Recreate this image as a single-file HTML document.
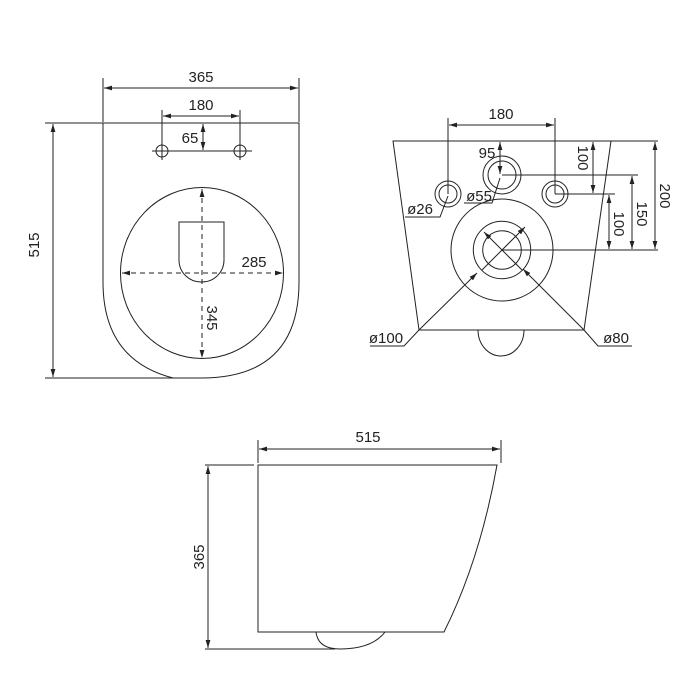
<!DOCTYPE html>
<html><head><style>body{margin:0;background:#fff}svg{display:block}text{font-family:"Liberation Sans",sans-serif;font-size:15px;fill:#222}</style></head>
<body>
<svg width="700" height="700" viewBox="0 0 700 700" xmlns="http://www.w3.org/2000/svg">
<defs>
<marker id="a" viewBox="0 0 10 10" refX="10" refY="5" markerWidth="8" markerHeight="8" orient="auto-start-reverse"><path d="M0,2 L10,5 L0,8 z" fill="#222"/></marker>
</defs>
<g fill="none" stroke="#222" stroke-width="1">
<!-- TOP VIEW -->
<path d="M103,123 L299,123 L299,282 Q299,378 201,378 L173,378 Q103,360 103,282 Z"/>
<line x1="45" y1="123" x2="103" y2="123"/>
<line x1="45" y1="378" x2="173" y2="378"/>
<line x1="53" y1="124" x2="53" y2="377" marker-start="url(#a)" marker-end="url(#a)"/>
<line x1="103" y1="78" x2="103" y2="122"/>
<line x1="299" y1="78" x2="299" y2="122"/>
<line x1="104" y1="88" x2="298" y2="88" marker-start="url(#a)" marker-end="url(#a)"/>
<line x1="162" y1="110" x2="162" y2="160"/>
<line x1="240" y1="110" x2="240" y2="160"/>
<line x1="163" y1="116" x2="239" y2="116" marker-start="url(#a)" marker-end="url(#a)"/>
<circle cx="162" cy="151" r="6"/><circle cx="240" cy="151" r="6"/>
<line x1="152" y1="151" x2="252" y2="151"/>
<line x1="203" y1="124" x2="203" y2="150" marker-start="url(#a)" marker-end="url(#a)"/>
<ellipse cx="202" cy="273" rx="81.5" ry="85.5"/>
<path d="M179,222 L224,222 L224,260 A22,22 0 0 1 202,282 A22,22 0 0 1 179,260 Z"/>
<line x1="202" y1="189" x2="202" y2="358" stroke-dasharray="5,4" marker-start="url(#a)" marker-end="url(#a)"/>
<line x1="122" y1="273" x2="283" y2="273" stroke-dasharray="5,4" marker-start="url(#a)" marker-end="url(#a)"/>
<!-- REAR VIEW -->
<path d="M393,141 L611,141 L584,330 L419,330 Z"/>
<path d="M478,330 A23,26 0 0 0 524,330"/>
<line x1="611" y1="141" x2="658" y2="141"/>
<line x1="448" y1="118" x2="448" y2="194"/>
<line x1="555" y1="118" x2="555" y2="194"/>
<line x1="449" y1="125" x2="554" y2="125" marker-start="url(#a)" marker-end="url(#a)"/>
<circle cx="448" cy="194" r="13"/><circle cx="448" cy="194" r="9"/>
<circle cx="555" cy="194" r="13"/><circle cx="555" cy="194" r="9"/>
<circle cx="502" cy="175" r="19"/><circle cx="502" cy="175" r="14"/>
<line x1="500" y1="142" x2="500" y2="174" marker-start="url(#a)" marker-end="url(#a)"/>
<polyline points="500,178 492,203 464,203"/>
<polyline points="448,196 440,217 405,217"/>
<circle cx="502" cy="250" r="51"/><circle cx="502" cy="250" r="28.7"/><circle cx="502" cy="250" r="19.3"/>
<line x1="502" y1="175" x2="638" y2="175"/>
<line x1="555" y1="194" x2="615" y2="194"/>
<line x1="502" y1="250" x2="658" y2="250"/>
<line x1="593" y1="142" x2="593" y2="193" marker-start="url(#a)" marker-end="url(#a)"/>
<line x1="609" y1="195" x2="609" y2="249" marker-start="url(#a)" marker-end="url(#a)"/>
<line x1="632" y1="176" x2="632" y2="249" marker-start="url(#a)" marker-end="url(#a)"/>
<line x1="655" y1="142" x2="655" y2="249" marker-start="url(#a)" marker-end="url(#a)"/>
<line x1="419" y1="330" x2="477" y2="273" marker-end="url(#a)"/>
<line x1="522" y1="270" x2="484" y2="232" marker-end="url(#a)"/>
<line x1="482" y1="270" x2="525" y2="227" marker-end="url(#a)"/>
<line x1="584" y1="330" x2="523" y2="269" marker-end="url(#a)"/>
<polyline points="419,330 404,346 370,346"/>
<polyline points="584,330 598,346 632,346"/>
<!-- SIDE VIEW -->
<path d="M258,465 L497,465 Q480,560 444,632 L258,632 Z"/>
<path d="M316,632 Q318,649 340,649 Q372,649 385,632"/>
<line x1="258" y1="440" x2="258" y2="463"/>
<line x1="501" y1="440" x2="501" y2="463"/>
<line x1="259" y1="449" x2="500" y2="449" marker-start="url(#a)" marker-end="url(#a)"/>
<line x1="205" y1="465" x2="254" y2="465"/>
<line x1="205" y1="649" x2="335" y2="649"/>
<line x1="208" y1="466" x2="208" y2="648" marker-start="url(#a)" marker-end="url(#a)"/>
</g>
<text x="201" y="82" text-anchor="middle">365</text>
<text x="201" y="110" text-anchor="middle">180</text>
<text x="190" y="143" text-anchor="middle">65</text>
<text x="254" y="267" text-anchor="middle">285</text>
<text transform="translate(39,245) rotate(-90)" text-anchor="middle">515</text>
<text transform="translate(207,318) rotate(90)" text-anchor="middle">345</text>
<text x="501" y="119" text-anchor="middle">180</text>
<text x="487" y="158" text-anchor="middle">95</text>
<text x="479" y="201" text-anchor="middle">ø55</text>
<text x="420" y="214" text-anchor="middle">ø26</text>
<text x="386" y="343" text-anchor="middle">ø100</text>
<text x="616" y="343" text-anchor="middle">ø80</text>
<text transform="translate(578,158) rotate(90)" text-anchor="middle">100</text>
<text transform="translate(614,224) rotate(90)" text-anchor="middle">100</text>
<text transform="translate(637,214) rotate(90)" text-anchor="middle">150</text>
<text transform="translate(660,196) rotate(90)" text-anchor="middle">200</text>
<text x="368" y="442" text-anchor="middle">515</text>
<text transform="translate(204,557) rotate(-90)" text-anchor="middle">365</text>
</svg>
</body></html>
